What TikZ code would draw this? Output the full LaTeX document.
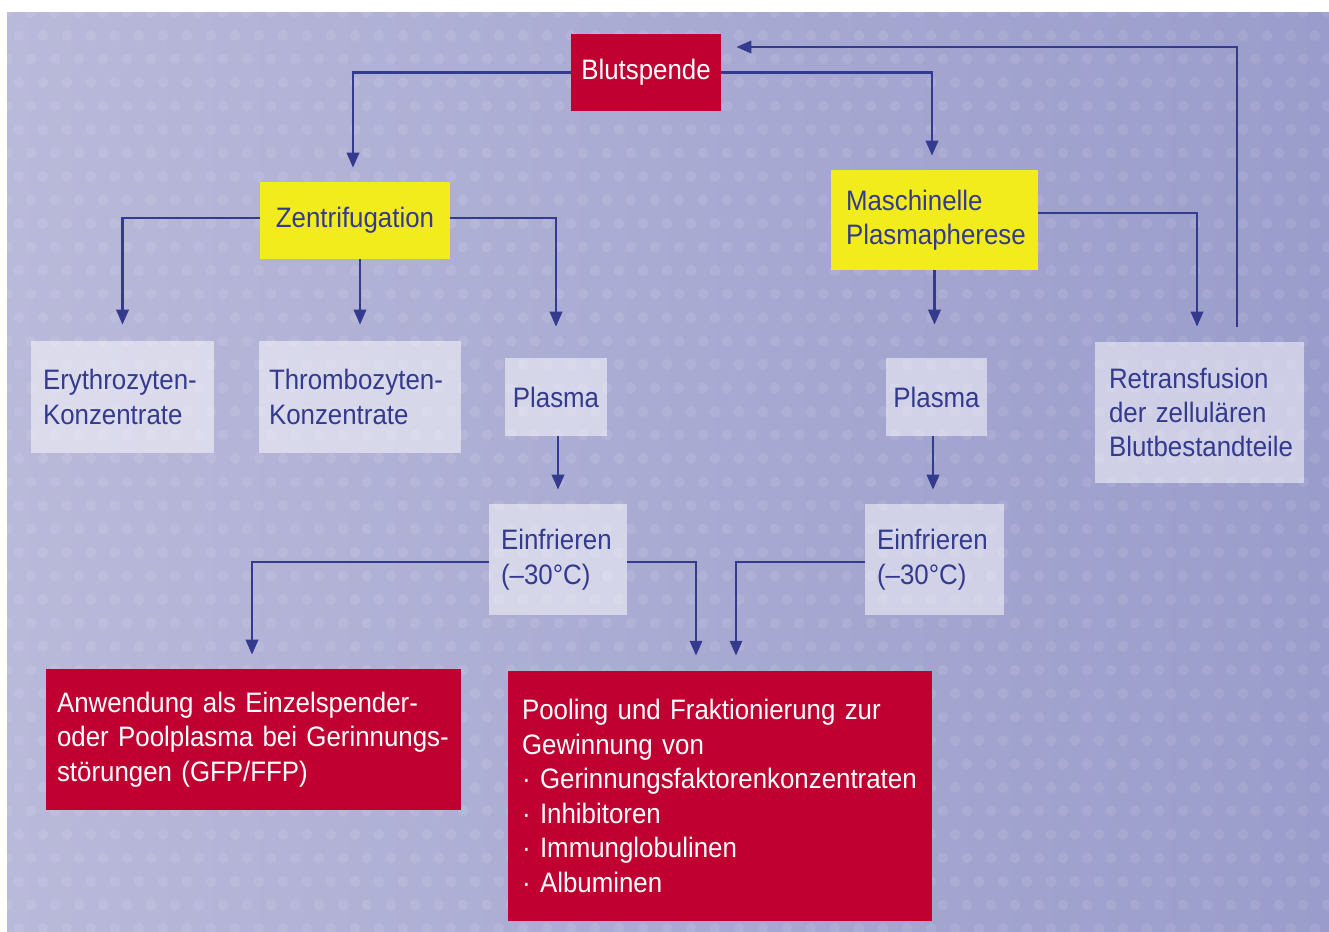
\documentclass[tikz,border=0pt]{standalone}
\usepackage{fontspec}
\setmainfont{Liberation Sans}[FakeStretch=0.92]
\usetikzlibrary{arrows.meta,calc}
\definecolor{bgL}{HTML}{B9B9DA}
\definecolor{bgR}{HTML}{9A9CCB}
\definecolor{dred}{HTML}{BF0030}
\definecolor{yel}{HTML}{F2EC1C}
\definecolor{navy}{HTML}{343A8E}
\newcommand\myboxfont{\fontsize{16}{19.6}\selectfont\spaceskip=3.1pt plus 1pt minus 0.5pt\relax}
\begin{document}
\begin{tikzpicture}[x=0.02cm,y=-0.02cm,
  box/.style={draw=none, inner sep=0pt, font=\myboxfont},
  redbox/.style={box, fill=dred, text=white},
  yelbox/.style={box, fill=yel, text=navy},
  lbox/.style={box, fill=white, fill opacity=0.5, text opacity=1, text=navy},
  arr/.style={draw=navy, line width=1.4pt, -{Triangle[length=8.5pt,width=7pt]}},
  dot/.style={fill=white, opacity=0.09}
]
\useasboundingbox (0,0) rectangle (1329,931);
\fill[left color=bgL, right color=bgR] (7,12) rectangle (1329,931);
\begin{scope}
\clip (7,12) rectangle (1329,931);
\foreach \i in {0,...,56}{
  \foreach \j in {0,...,40}{
    \fill[dot] ({7+\i*24+mod(\j,2)*12},{12+\j*23.5}) circle[radius=0.11cm];
  }
}
\end{scope}

% nodes
\node[redbox, minimum width=3cm, minimum height=1.54cm] (blut) at (646,72.5) {Blutspende};
\node[yelbox, minimum width=3.8cm, minimum height=1.54cm] (zent) at (355,220.5) {Zentrifugation};
\node[yelbox, minimum width=4.14cm, minimum height=2cm, text width=3.54cm, align=left] (masch) at (934.5,220) {Maschinelle\\Plasmapherese};
\node[lbox, minimum width=3.66cm, minimum height=2.24cm, text width=3.18cm, align=left] (ery) at (122.5,397) {Erythrozyten-\\Konzentrate};
\node[lbox, minimum width=4.04cm, minimum height=2.24cm, text width=3.64cm, align=left] (thr) at (360,397) {Thrombozyten-\\Konzentrate};
\node[lbox, minimum width=2.04cm, minimum height=1.56cm] (plL) at (556,397) {Plasma};
\node[lbox, minimum width=2.02cm, minimum height=1.56cm] (plR) at (936.5,397) {Plasma};
\node[lbox, minimum width=4.18cm, minimum height=2.82cm, text width=3.62cm, align=left] (ret) at (1199.5,412.5) {Retransfusion\\der zellulären\\Blutbestandteile};
\node[lbox, minimum width=2.76cm, minimum height=2.22cm, text width=2.28cm, align=left] (einL) at (558,559.5) {Einfrieren\\(–30°C)};
\node[lbox, minimum width=2.78cm, minimum height=2.22cm, text width=2.3cm, align=left] (einR) at (934.5,559.5) {Einfrieren\\(–30°C)};
\node[redbox, minimum width=8.3cm, minimum height=2.82cm, text width=7.86cm, align=left] (anw) at (253.5,739.5) {Anwendung als Einzelspender-\\oder Poolplasma bei Gerinnungs-\\störungen (GFP/FFP)};
\node[redbox, minimum width=8.48cm, minimum height=5cm, text width=7.92cm, align=left] (pool) at (720,796) {Pooling und Fraktionierung zur\\Gewinnung von\\· Gerinnungsfaktorenkonzentraten\\· Inhibitoren\\· Immunglobulinen\\· Albuminen};

% connectors
\draw[arr, shorten >=0.28cm] (blut.west) -| ([xshift=-0.04cm]zent.north);
\draw[arr, shorten >=0.28cm] (blut.east) -| ([xshift=-0.05cm]masch.north);
\draw[arr] ([xshift=0.75cm,yshift=0.3cm]ret.north) |- ([xshift=0.3cm,yshift=0.51cm]blut.east);
\draw[arr, shorten >=0.32cm] ([yshift=0.05cm]zent.west) -| (ery.north);
\draw[arr, shorten >=0.32cm] (zent.south -| thr.north) -- (thr.north);
\draw[arr, shorten >=0.62cm] ([yshift=0.05cm]zent.east) -| (plL.north);
\draw[arr, shorten >=0.3cm] ([yshift=0.14cm]masch.east) -| ([xshift=-0.05cm]ret.north);
\draw[arr, shorten >=0.66cm] (masch.south) -- (masch.south |- plR.north);
\draw[arr, shorten >=0.28cm] (plL.south -| einL.north) -- (einL.north);
\draw[arr, shorten >=0.28cm] ([xshift=-0.07cm]plR.south) -- ([xshift=-0.07cm]plR.south |- einR.north);
\draw[arr, shorten >=0.28cm] ([yshift=-0.05cm]einL.west) -| ([xshift=-0.03cm]anw.north);
\draw[arr, shorten >=0.3cm] ([yshift=-0.05cm]einL.east) -| ([xshift=-0.48cm]pool.north);
\draw[arr, shorten >=0.3cm] ([yshift=-0.05cm]einR.west) -| ([xshift=0.32cm]pool.north);
\end{tikzpicture}
\end{document}
